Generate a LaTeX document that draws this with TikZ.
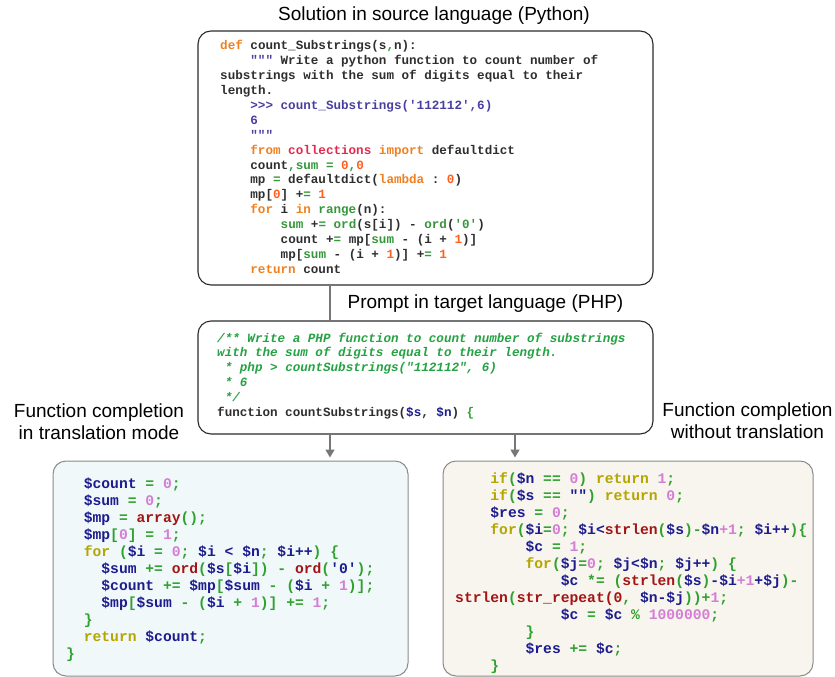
\documentclass[tikz,border=0pt]{standalone}
\usepackage{fontspec}
\setmainfont{Liberation Sans}
\setmonofont{Liberation Mono}
\usetikzlibrary{arrows.meta}
\definecolor{pyK}{HTML}{F07F1E}
\definecolor{pyN}{HTML}{FF5F1F}
\definecolor{pyR}{HTML}{E3294F}
\definecolor{pyG}{HTML}{35973A}
\definecolor{pyP}{HTML}{4A3F9F}
\definecolor{txt}{HTML}{2E2E2E}
\definecolor{cmG}{HTML}{25A243}
\definecolor{phB}{HTML}{1C1C8E}
\definecolor{phG}{HTML}{2FA12F}
\definecolor{phP}{HTML}{D47FD4}
\definecolor{phR}{HTML}{A31515}
\definecolor{phY}{HTML}{B3A600}
\definecolor{boxline}{HTML}{2B2B2B}
\definecolor{greyline}{HTML}{8A8A8A}
\definecolor{conn}{HTML}{777777}
\definecolor{fillL}{HTML}{F0F8FA}
\definecolor{fillR}{HTML}{F8F4EE}
\newcommand\pyK[1]{\textcolor{pyK}{#1}}
\newcommand\pyN[1]{\textcolor{pyN}{#1}}
\newcommand\pyR[1]{\textcolor{pyR}{#1}}
\newcommand\pyG[1]{\textcolor{pyG}{#1}}
\newcommand\pyP[1]{\textcolor{pyP}{#1}}
\newcommand\phB[1]{\textcolor{phB}{#1}}
\newcommand\phG[1]{\textcolor{phG}{#1}}
\newcommand\phP[1]{\textcolor{phP}{#1}}
\newcommand\phR[1]{\textcolor{phR}{#1}}
\newcommand\phY[1]{\textcolor{phY}{#1}}
\frenchspacing
\begin{document}
\begin{tikzpicture}[x=1pt,y=-1pt,
  topbox/.style={draw=boxline,line width=1.1pt,rounded corners=13pt,inner sep=0pt},
  botbox/.style={draw=greyline,line width=1pt,rounded corners=13pt,inner sep=0pt},
  lab/.style={font=\fontsize{19}{22}\selectfont,text=black,anchor=base,inner sep=0pt},
  pyc/.style={anchor=base west,inner sep=0pt,text=txt,font=\ttfamily\bfseries\fontsize{12.6}{15}\selectfont},
  cmc/.style={pyc,text=cmG,font=\ttfamily\bfseries\itshape\fontsize{12.6}{15}\selectfont},
  phc/.style={anchor=base west,inner sep=0pt,text=phB,font=\ttfamily\bfseries\fontsize{14.67}{17}\selectfont},
  connline/.style={draw=conn,line width=1.4pt},
  arr/.style={connline,-{Triangle[length=8pt,width=9pt]},shorten >=3pt}]
\useasboundingbox (0,0) rectangle (835,677);
% boxes
\node[topbox,minimum width=455pt,minimum height=254pt] (py) at (425.5,158) {};
\node[topbox,minimum width=455pt,minimum height=113pt] (php) at (425.5,377.5) {};
\node[botbox,fill=fillL,minimum width=355pt,minimum height=215pt] (left) at (230.5,568.5) {};
\node[botbox,fill=fillR,minimum width=370pt,minimum height=215pt] (right) at (628,568.5) {};
% connectors
\coordinate (xa) at (330,0);
\coordinate (xb) at (515,0);
\draw[connline] (py.south -| xa) -- (php.north -| xa);
\draw[arr] (php.south -| xa) -- (left.north -| xa);
\draw[arr] (php.south -| xb) -- (right.north -| xb);
% labels
\node[lab] (tpy) at (434,21) {Solution in source language (Python)};
\node[lab] (tphp) at (485.5,308) {Prompt in target language (PHP)};
\node[lab] (tl1) at (99,417) {Function completion};
\node[lab] (tl2) at (99,439) {in translation mode};
\node[lab] (tr1) at (747.5,416) {Function completion};
\node[lab] (tr2) at (747.5,438) {without translation};
% python code (col0 = 220, char = 7.56)
\node[pyc] (p1) at (220,50) {\pyK{def} count\_Substrings(s\pyG{,}n):};
\node[pyc] (p2) at (250.2,64.9) {\pyP{"""} Write a python function to count number of};
\node[pyc] (p3) at (220,79.7) {substrings with the sum of digits equal to their};
\node[pyc] (p4) at (220,94.6) {length.};
\node[pyc] (p5) at (250.2,109.5) {\pyP{>>> count\_Substrings('112112',6)}};
\node[pyc] (p6) at (250.2,124.4) {\pyP{6}};
\node[pyc] (p7) at (250.2,139.2) {\pyP{"""}};
\node[pyc] (p8) at (250.2,154.1) {\pyK{from} \pyR{collections} \pyK{import} defaultdict};
\node[pyc] (p9) at (250.2,169.0) {count\pyG{,sum} \pyG{=} \pyN{0}\pyG{,}\pyN{0}};
\node[pyc] (p10) at (250.2,183.8) {mp \pyG{=} defaultdict(\pyK{lambda} : \pyN{0})};
\node[pyc] (p11) at (250.2,198.7) {mp[\pyN{0}] +\pyG{=} \pyN{1}};
\node[pyc] (p12) at (250.2,213.6) {\pyK{for} i \pyK{in} \pyG{range}(n):};
\node[pyc] (p13) at (280.5,228.4) {\pyG{sum} +\pyG{=} \pyG{ord}(s[i]) - \pyG{ord}(\pyG{'0'})};
\node[pyc] (p14) at (280.5,243.3) {count +\pyG{=} mp[\pyG{sum} - (i + \pyN{1})]};
\node[pyc] (p15) at (280.5,258.2) {mp[\pyG{sum} - (i + \pyN{1})] +\pyG{=} \pyN{1}};
\node[pyc] (p16) at (250.2,273) {\pyK{return} count};
% php prompt (col0 = 217)
\node[cmc] (q1) at (217,342) {/** Write a PHP function to count number of substrings};
\node[cmc] (q2) at (217,356.9) {with the sum of digits equal to their length.};
\node[cmc] (q3) at (224.6,371.7) {* php > countSubstrings("112112", 6)};
\node[cmc] (q4) at (224.6,386.6) {* 6};
\node[cmc] (q5) at (224.6,401.4) {*/};
\node[pyc] (q6) at (217,416.3) {function countSubstrings(\phB{\$s}, \phB{\$n}) \phG{\{}};
% left completion (col0 = 66, char = 8.8)
\node[phc] (a1) at (83.6,488) {\$count \phG{=} \phP{0}\phG{;}};
\node[phc] (a2) at (83.6,505) {\$sum \phG{=} \phP{0}\phG{;}};
\node[phc] (a3) at (83.6,522) {\$mp \phG{=} \phR{array}\phG{();}};
\node[phc] (a4) at (83.6,539) {\$mp\phG{[}\phP{0}\phG{]} \phG{=} \phP{1}\phG{;}};
\node[phc] (a5) at (83.6,556) {\phY{for} \phG{(}\$i \phG{=} \phP{0}\phG{;} \$i < \$n\phG{;} \$i++\phG{) \{}};
\node[phc] (a6) at (101.2,573) {\$sum \phG{+=} \phR{ord}\phG{(}\$s\phG{[}\$i\phG{])} \phG{-} \phR{ord}\phG{(}'0'\phG{);}};
\node[phc] (a7) at (101.2,590) {\$count \phG{+=} \$mp\phG{[}\$sum \phG{- (}\$i \phG{+} \phP{1}\phG{)];}};
\node[phc] (a8) at (101.2,607) {\$mp\phG{[}\$sum \phG{- (}\$i \phG{+} \phP{1}\phG{)]} \phG{+=} \phP{1}\phG{;}};
\node[phc] (a9) at (83.6,624) {\phG{\}}};
\node[phc] (a10) at (83.6,641) {\phY{return} \$count\phG{;}};
\node[phc] (a11) at (66,658) {\phG{\}}};
% right completion (col0 = 455, char = 8.8)
\node[phc] (b1) at (490.2,483.5) {\phY{if}\phG{(}\$n \phG{==} \phP{0}\phG{)} \phY{return} \phP{1}\phG{;}};
\node[phc] (b2) at (490.2,500.5) {\phY{if}\phG{(}\$s \phG{==} ""\phG{)} \phY{return} \phP{0}\phG{;}};
\node[phc] (b3) at (490.2,517.5) {\$res \phG{=} \phP{0}\phG{;}};
\node[phc] (b4) at (490.2,534.5) {\phY{for}\phG{(}\$i\phG{=}\phP{0}\phG{;} \$i<\phR{strlen}\phG{(}\$s\phG{)-}\$n\phP{+1}\phG{;} \$i++\phG{)\{}};
\node[phc] (b5) at (525.4,551.5) {\$c \phG{=} \phP{1}\phG{;}};
\node[phc] (b6) at (525.4,568.5) {\phY{for}\phG{(}\$j\phG{=}\phP{0}\phG{;} \$j<\$n\phG{;} \$j++\phG{)} \phG{\{}};
\node[phc] (b7) at (560.6,585.5) {\$c \phG{*=} \phG{(}\phR{strlen}\phG{(}\$s\phG{)}-\$i\phP{+1}+\$j\phG{)-}};
\node[phc] (b8) at (455,602.5) {\phR{strlen}\phG{(}\phR{str\_repeat(0}\phG{,} \$n-\$j\phG{))+}\phP{1}\phG{;}};
\node[phc] (b9) at (560.6,619.5) {\$c \phG{=} \$c \phG{\%} \phP{1000000}\phG{;}};
\node[phc] (b10) at (525.4,636.5) {\phG{\}}};
\node[phc] (b11) at (525.4,653.5) {\$res \phG{+=} \$c\phG{;}};
\node[phc] (b12) at (490.2,670.5) {\phG{\}}};
\end{tikzpicture}
\end{document}
